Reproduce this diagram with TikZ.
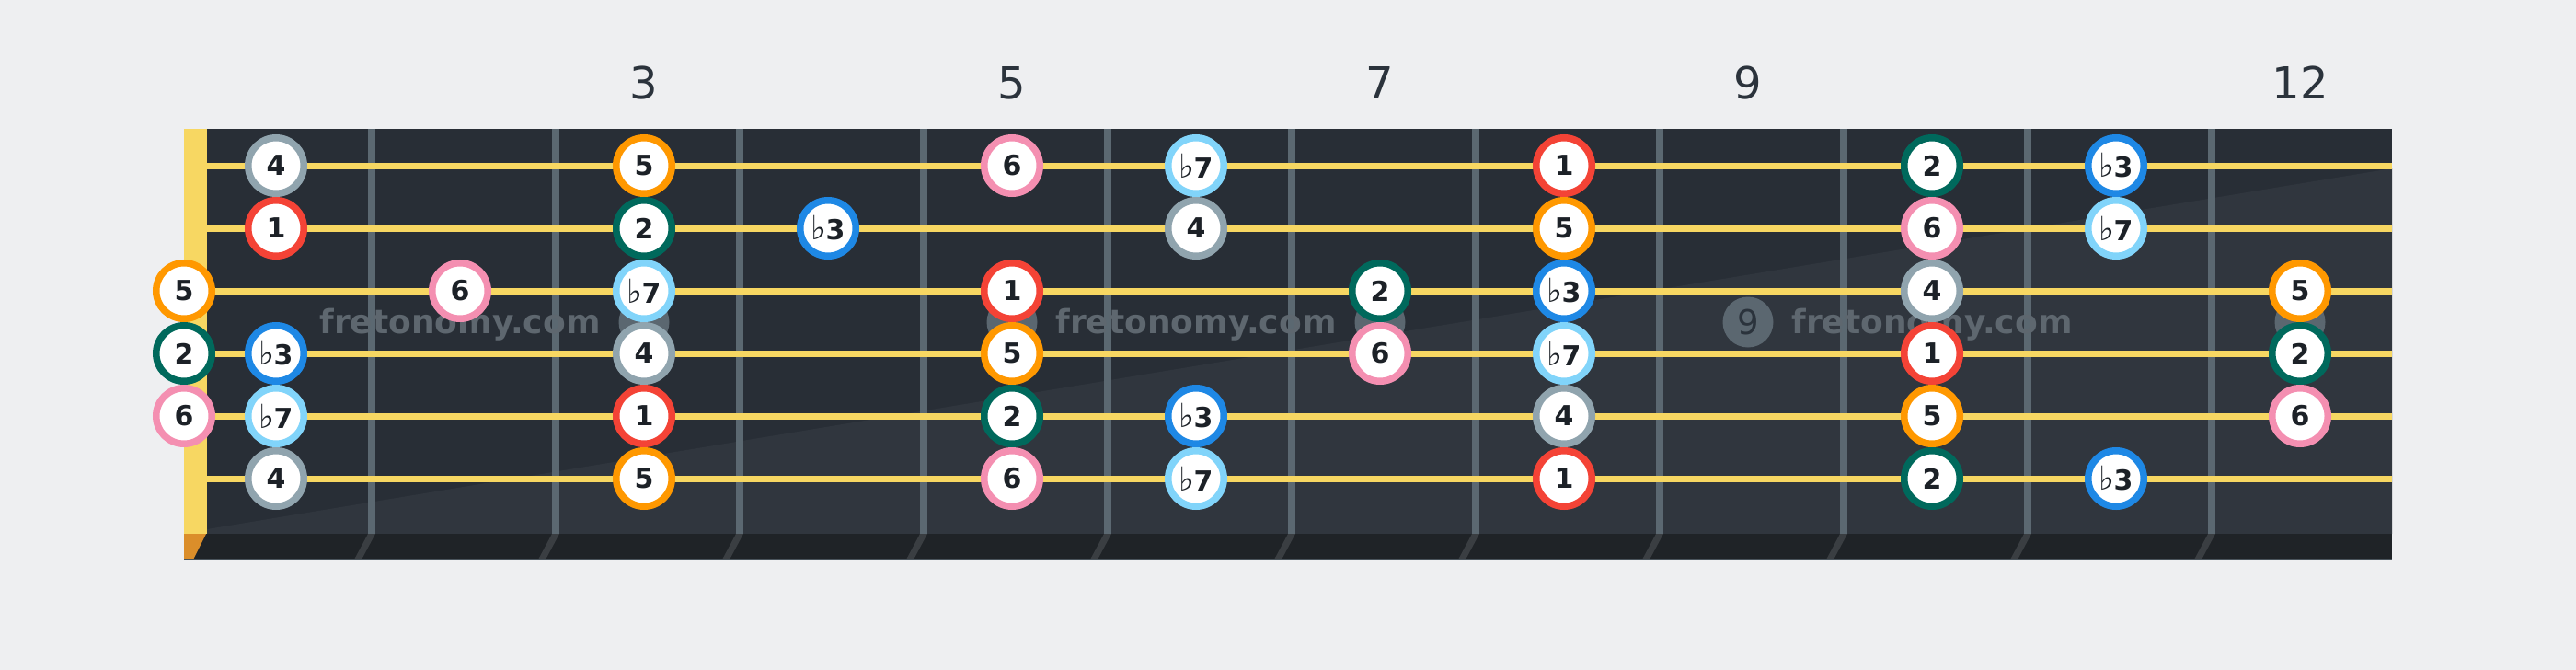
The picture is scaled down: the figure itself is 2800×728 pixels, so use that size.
\documentclass[tikz,border=0pt]{standalone}
\usepackage{fontspec}
\setmainfont{DejaVu Sans}
\definecolor{bg}{HTML}{EEEFF1}
\definecolor{boardA}{HTML}{282E36}
\definecolor{boardB}{HTML}{30363E}
\definecolor{stripc}{HTML}{1F2327}
\definecolor{stripline}{HTML}{3A3E42}
\definecolor{stripedge}{HTML}{4A545C}
\definecolor{fretc}{HTML}{5B6871}
\definecolor{strc}{HTML}{F7D762}
\definecolor{nutb}{HTML}{DB8E2A}
\definecolor{numc}{HTML}{2B333C}
\definecolor{dotc}{HTML}{5B6770}
\definecolor{wmc}{HTML}{5E676F}
\definecolor{txtc}{HTML}{1C2127}
\definecolor{c1}{HTML}{F44336}
\definecolor{c2}{HTML}{00695C}
\definecolor{c3}{HTML}{1E88E5}
\definecolor{c4}{HTML}{90A4AE}
\definecolor{c5}{HTML}{FF9800}
\definecolor{c6}{HTML}{F48FB1}
\definecolor{c7}{HTML}{81D4FA}
\newcommand\myflat{{\mdseries\fontsize{36}{36}\selectfont ♭}\kern-1pt}
\newcommand\deglabel[1]{\ifcase#1\or 1\or 2\or \myflat3\or 4\or 5\or 6\or \myflat7\fi}
\tikzset{
  note/.style={circle, fill=white, line width=7.5pt, minimum size=60.5pt, inner sep=0pt,
    text=txtc, font=\fontsize{30}{30}\selectfont\bfseries},
  fretnum/.style={text=numc, font=\fontsize{48}{48}\selectfont, inner sep=0pt},
  inlay/.style={circle, fill=dotc, minimum size=55pt, inner sep=0pt, text=numc,
    font=\fontsize{37}{37}\selectfont},
  watermark/.style={text=wmc, font=\fontsize{36}{36}\selectfont\bfseries, inner sep=0pt, anchor=base},
  fretwire/.style={draw=fretc, line width=8pt},
  guitarstring/.style={draw=strc, line width=7pt}
}
\begin{document}
\begin{tikzpicture}[x=1pt,y=-1pt]
\useasboundingbox (0,0) rectangle (2800,728);
\fill[bg] (0,0) rectangle (2800,728);
% board
\fill[boardA] (225,140) rectangle (2600,580);
\fill[boardB] (225,575) -- (2600,183) -- (2600,580) -- (225,580) -- cycle;
% bottom strip
\fill[stripc] (200,580) rectangle (2600,608);
\foreach \k in {1,...,11} {
  \pgfmathsetmacro\fx{204+200*\k}
  \fill[stripline] (\fx-4,580) -- (\fx+4,580) -- (\fx-11,608) -- (\fx-19,608) -- cycle;
}
\fill[nutb] (200,580) -- (224,580) -- (210,608) -- (200,608) -- cycle;
\draw[stripedge, line width=1.5pt] (200,608) -- (2600,608);
% nut
\fill[strc] (200,140) rectangle (225,580);
% fret wires
\foreach \k in {1,...,11} {
  \pgfmathsetmacro\fx{204+200*\k}
  \draw[fretwire] (\fx,140) -- (\fx,580);
}
% inlays
\node[inlay] (dot3) at (700,350) {};
\node[inlay] (dot5) at (1100,350) {};
\node[inlay] (dot7) at (1500,350) {};
\node[inlay] (dot9) at (1900,350) {9};
\node[inlay] (dot12) at (2500,350) {};
% watermarks
\node[watermark] (wm1) at (500,362) {fretonomy.com};
\node[watermark] (wm2) at (1300,362) {fretonomy.com};
\node[watermark] (wm3) at (2100,362) {fretonomy.com};
% strings
\foreach \s in {1,...,6} {
  \pgfmathsetmacro\sy{180+68*(\s-1)}
  \draw[guitarstring] (225,\sy) -- (2600,\sy);
}
% fret numbers
\node[fretnum] (fn3) at (700,90) {3};
\node[fretnum] (fn5) at (1100,90) {5};
\node[fretnum] (fn7) at (1500,90) {7};
\node[fretnum] (fn9) at (1900,90) {9};
\node[fretnum] (fn12) at (2500,90) {12};
% notes
\foreach \s/\f/\d in {
  1/1/4, 1/3/5, 1/5/6, 1/6/7, 1/8/1, 1/10/2, 1/11/3,
  2/1/1, 2/3/2, 2/4/3, 2/6/4, 2/8/5, 2/10/6, 2/11/7,
  3/0/5, 3/2/6, 3/3/7, 3/5/1, 3/7/2, 3/8/3, 3/10/4, 3/12/5,
  4/0/2, 4/1/3, 4/3/4, 4/5/5, 4/7/6, 4/8/7, 4/10/1, 4/12/2,
  5/0/6, 5/1/7, 5/3/1, 5/5/2, 5/6/3, 5/8/4, 5/10/5, 5/12/6,
  6/1/4, 6/3/5, 6/5/6, 6/6/7, 6/8/1, 6/10/2, 6/11/3} {
  \pgfmathsetmacro\nx{ifthenelse(\f==0,200,100+200*\f)}
  \pgfmathsetmacro\ny{180+68*(\s-1)}
  \node[note, draw=c\d] (n\s-\f) at (\nx,\ny) {\deglabel{\d}};
}
\end{tikzpicture}
\end{document}
